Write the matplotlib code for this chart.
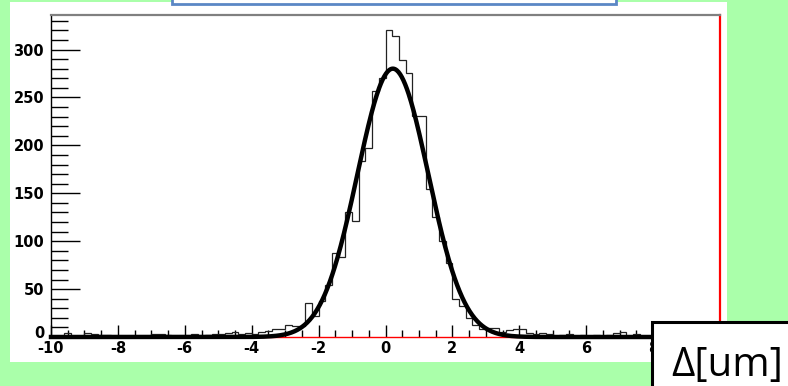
import matplotlib
matplotlib.use("Agg")
import matplotlib.pyplot as plt
import matplotlib.transforms as mtransforms
from matplotlib.patches import Rectangle
from matplotlib.ticker import MultipleLocator
import numpy as np

plt.rcParams["axes.unicode_minus"] = False

# histogram: 100 bins of width 0.2 between -10 and 10
bin_lo = -10.0
bin_hi = 10.0
counts = [1, 0, 4, 1, 1, 4, 3, 2, 2, 1,
          0, 1, 1, 0, 1, 3, 3, 2, 1, 0,
          1, 3, 1, 2, 3, 3, 4, 5, 3, 4,
          3, 5, 6, 8, 8, 13, 11, 12, 35, 22,
          38, 54, 88, 84, 130, 121, 184, 197, 257, 270,
          320, 314, 289, 276, 231, 231, 154, 125, 100, 77,
          40, 32, 20, 13, 8, 9, 9, 5, 7, 8,
          8, 4, 3, 4, 3, 1, 2, 3, 1, 2,
          1, 2, 1, 2, 4, 5, 1, 3, 1, 1,
          2, 1, 0, 1, 1, 0, 1, 1, 0, 1]

# gaussian fit parameters
fit_amp = 280.0
fit_mean = 0.22
fit_sigma = 1.06

x_ticks = [-10, -8, -6, -4, -2, 0, 2, 4, 6, 8]
y_ticks = [0, 50, 100, 150, 200, 250, 300]
label = "Δ[um]"

green = "#aaffaa"
W, H = 788, 386

fig = plt.figure(figsize=(W / 100, H / 100), dpi=100, facecolor=green)

# white pad behind the frame
fig.patches.append(Rectangle((10 / W, 1 - 362 / H), 717 / W, 360 / H,
                             transform=fig.transFigure, facecolor="white",
                             edgecolor="none", zorder=-2))
# cut-off title box at the top
fig.patches.append(Rectangle((172 / W, 1 - 4 / H), 444 / W, 10 / H,
                             transform=fig.transFigure, facecolor="white",
                             edgecolor="#5b87c5", linewidth=2, zorder=-1))

ax = fig.add_axes([51 / W, 1 - 337 / H, 669 / W, 322 / H])
ax.set_zorder(1)
ax.set_facecolor("white")

edges = np.linspace(bin_lo, bin_hi, len(counts) + 1)
ax.stairs(counts, edges, color="#222222", linewidth=0.9, zorder=2)

xs = np.linspace(bin_lo, bin_hi, 800)
ax.plot(xs, fit_amp * np.exp(-0.5 * ((xs - fit_mean) / fit_sigma) ** 2),
        color="black", linewidth=3.2, zorder=3, clip_on=False)

ax.set_xlim(bin_lo, bin_hi)
ax.set_ylim(0, 336)

ax.set_xticks(x_ticks)
ax.set_yticks(y_ticks)
ax.xaxis.set_minor_locator(MultipleLocator(0.5))
ax.yaxis.set_minor_locator(MultipleLocator(10))
ax.tick_params(axis="x", which="major", direction="in", length=9, width=1, pad=3)
ax.tick_params(axis="x", which="minor", direction="in", length=5, width=1)
ax.tick_params(axis="y", which="major", direction="in", length=21, width=1, pad=5)
ax.tick_params(axis="y", which="minor", direction="in", length=12, width=1)
ax.tick_params(top=False, right=False, which="both")
for lab in ax.get_xticklabels() + ax.get_yticklabels():
    lab.set_fontfamily("DejaVu Sans")
    lab.set_fontweight("bold")
    lab.set_fontsize(10.5)

# lift the "0" on the y axis a little so it sits above "-10"
zero_lab = ax.get_yticklabels()[0]
zero_lab.set_transform(zero_lab.get_transform() +
                       mtransforms.ScaledTranslation(0, 5 / 100, fig.dpi_scale_trans))

ax.spines["top"].set_color("#808080")
ax.spines["top"].set_linewidth(1.6)
ax.spines["left"].set_color("black")
ax.spines["left"].set_linewidth(1)
ax.spines["right"].set_color("red")
ax.spines["right"].set_linewidth(1.6)
ax.spines["bottom"].set_color("red")
ax.spines["bottom"].set_linewidth(1)

# label box in the lower right corner
fig.patches.append(Rectangle((652 / W, 1 - 390 / H), 150 / W, 68 / H,
                             transform=fig.transFigure, facecolor="white",
                             edgecolor="black", linewidth=2.2, zorder=5))
fig.text(671 / W, 1 - 376 / H, label, fontsize=29, family="Open Sans",
         ha="left", va="baseline", zorder=6)

fig.savefig("out.png", dpi=100, facecolor=green)
